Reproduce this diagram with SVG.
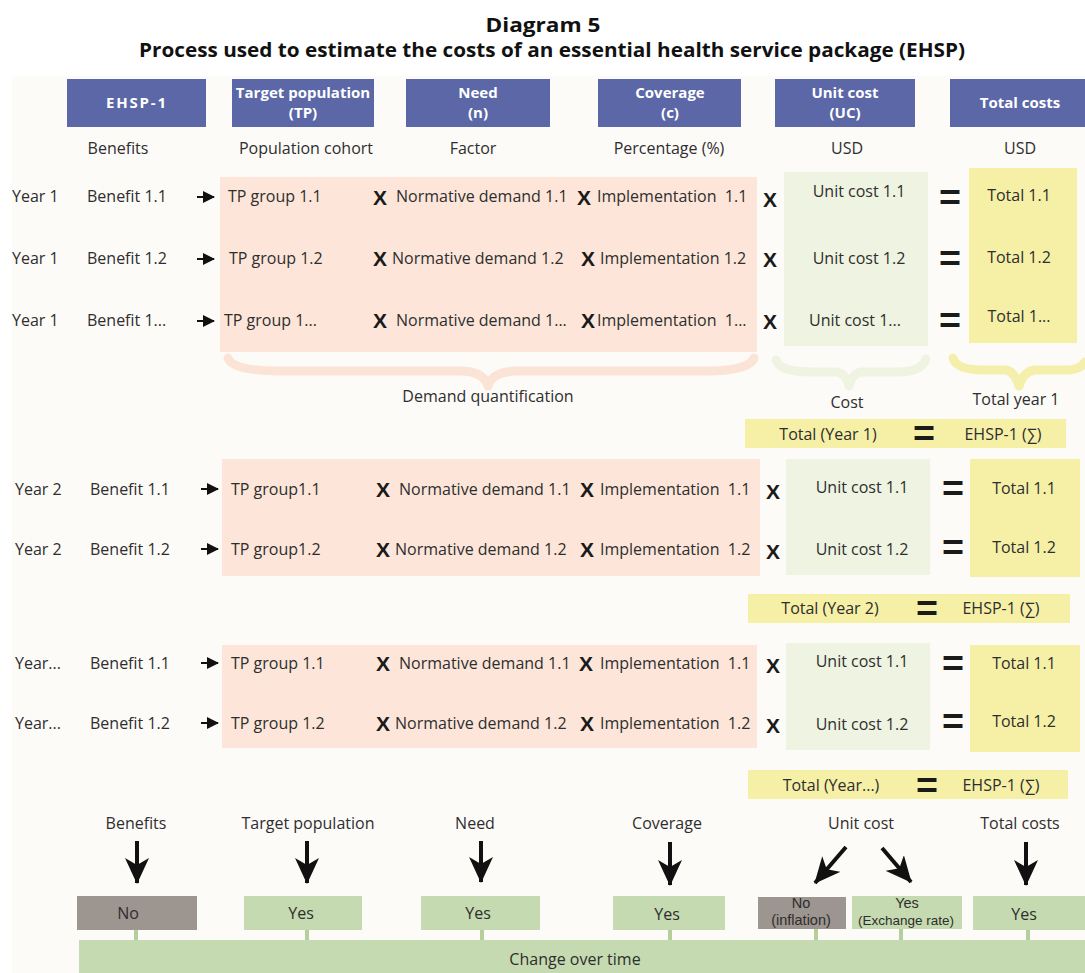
<svg xmlns="http://www.w3.org/2000/svg" width="1085" height="973" viewBox="0 0 1085 973">
<defs>
<style>
text{font-family:"Open Sans","Noto Sans","Liberation Sans",sans-serif;fill:#2e2e2e;font-size:16px}
.title{font-weight:bold;font-size:20px;fill:#111;text-anchor:middle}
.hd{fill:#5b67a6}
.hdt{fill:#fff;font-weight:bold;font-size:15px;text-anchor:middle}
.c{text-anchor:middle}
.peach{fill:#fde6d9}
.lgreen{fill:#eef4e1}
.yellow{fill:#f6f0a7}
.bgreen{fill:#c5dab0}
.grey{fill:#9c9590}
.op{font-family:"Liberation Sans",sans-serif;font-weight:bold;font-size:21px;fill:#1a1a1a;text-anchor:middle}
.eq{font-family:"Liberation Sans",sans-serif;font-weight:bold;font-size:36px;fill:#1a1a1a;text-anchor:middle}
.sarrow{stroke:#111;stroke-width:2;fill:none}
.barrow{stroke:#111;stroke-width:4;fill:none}
.tick{stroke:#b3cf9c;stroke-width:4}
.brace{fill:none;stroke-width:9;stroke-linecap:round;stroke-linejoin:round}
.two{font-family:"Liberation Sans",sans-serif;font-size:14.5px}
.pre{white-space:pre}
</style>
<marker id="sh" markerWidth="12" markerHeight="12" refX="11" refY="6" orient="auto" markerUnits="userSpaceOnUse">
<path d="M0,0 L12,6 L0,12 Z" fill="#111"/>
</marker>
<marker id="bh" markerWidth="26" markerHeight="24" refX="25" refY="12" orient="auto" markerUnits="userSpaceOnUse" viewBox="0 0 26 24">
<path d="M0,0 L7,12 L0,24 L26,12 Z" fill="#111"/>
</marker>
</defs>
<rect x="0" y="0" width="1085" height="973" fill="#ffffff"/>
<rect x="12" y="76" width="1073" height="897" fill="#fdfbf8"/>

<g id="title">
<text class="title" x="543" y="32" textLength="115" lengthAdjust="spacingAndGlyphs">Diagram 5</text>
<text class="title" x="552" y="57" textLength="826" lengthAdjust="spacingAndGlyphs">Process used to estimate the costs of an essential health service package (EHSP)</text>
</g>

<g id="headers">
<g id="h-ehsp"><rect class="hd" x="67" y="79" width="139" height="48"/><text class="hdt" x="136" y="108" textLength="60">EHSP-1</text></g>
<g id="h-tp"><rect class="hd" x="232" y="79" width="142" height="48"/><text class="hdt" x="303" y="98">Target population</text><text class="hdt" x="303" y="118">(TP)</text></g>
<g id="h-need"><rect class="hd" x="406" y="79" width="144" height="48"/><text class="hdt" x="478" y="98">Need</text><text class="hdt" x="478" y="118">(n)</text></g>
<g id="h-cov"><rect class="hd" x="598" y="79" width="143" height="48"/><text class="hdt" x="670" y="98">Coverage</text><text class="hdt" x="670" y="118">(c)</text></g>
<g id="h-uc"><rect class="hd" x="775" y="79" width="140" height="48"/><text class="hdt" x="845" y="98">Unit cost</text><text class="hdt" x="845" y="118">(UC)</text></g>
<g id="h-tc"><rect class="hd" x="950" y="79" width="135" height="48"/><text class="hdt" x="1020" y="108">Total costs</text></g>
<text class="c" x="118" y="154">Benefits</text>
<text class="c" x="306" y="154">Population cohort</text>
<text class="c" x="473" y="154">Factor</text>
<text class="c" x="669" y="154">Percentage (%)</text>
<text class="c" x="847" y="154">USD</text>
<text class="c" x="1020" y="154">USD</text>
</g>

<g id="year1">
<rect class="peach" x="220" y="177" width="537" height="175"/>
<rect class="lgreen" x="784" y="172" width="144" height="174"/>
<rect class="yellow" x="969" y="168" width="108" height="175"/>
<text x="12" y="202">Year 1</text><text x="87" y="202">Benefit 1.1</text>
<text x="228" y="202">TP group 1.1</text><text class="op" x="380" y="205">X</text>
<text x="396" y="202">Normative demand 1.1</text><text class="op" x="584" y="205">X</text>
<text class="pre" x="597" y="202" xml:space="preserve">Implementation  1.1</text><text class="op" x="770" y="207">X</text>
<text class="c" x="859" y="197">Unit cost 1.1</text><text class="eq" x="950" y="210" textLength="22" lengthAdjust="spacingAndGlyphs">=</text><text class="c" x="1019" y="201">Total 1.1</text>

<text x="12" y="264">Year 1</text><text x="87" y="264">Benefit 1.2</text>
<text x="229" y="264">TP group 1.2</text><text class="op" x="380" y="266">X</text>
<text x="392" y="264">Normative demand 1.2</text><text class="op" x="588" y="266">X</text>
<text x="600" y="264">Implementation 1.2</text><text class="op" x="770" y="267">X</text>
<text class="c" x="859" y="264">Unit cost 1.2</text><text class="eq" x="950" y="271" textLength="22" lengthAdjust="spacingAndGlyphs">=</text><text class="c" x="1019" y="263">Total 1.2</text>

<text x="12" y="326">Year 1</text><text x="87" y="326">Benefit 1...</text>
<text x="224" y="326">TP group 1...</text><text class="op" x="380" y="328">X</text>
<text x="396" y="326">Normative demand 1...</text><text class="op" x="588" y="328">X</text>
<text class="pre" x="597" y="326" xml:space="preserve">Implementation  1...</text><text class="op" x="770" y="329">X</text>
<text class="c" x="855" y="326">Unit cost 1...</text><text class="eq" x="950" y="333" textLength="22" lengthAdjust="spacingAndGlyphs">=</text><text class="c" x="1019" y="322">Total 1...</text>

<path class="brace" stroke="#fbe3d5" d="M228,358 Q232,371 280,371 L462,371 Q484,372 488,386 Q492,372 516,371 L710,371 Q750,370 754,358"/>
<path class="brace" stroke="#eef3e2" d="M776,360 Q780,372 812,372 L838,372 Q846,374 849,386 Q852,374 860,372 L900,372 Q922,371 926,359"/>
<path class="brace" stroke="#f5efac" d="M953,358 Q956,370 985,370 L1006,370 Q1015,372 1019,386 Q1023,372 1034,370 L1070,370 Q1082,368 1085,362"/>
<text class="c" x="488" y="402">Demand quantification</text>
<text class="c" x="847" y="408">Cost</text>
<text class="c" x="1016" y="405">Total year 1</text>
<g id="total-year1"><rect class="yellow" x="745" y="419" width="321" height="29"/>
<text class="c" x="828" y="440">Total (Year 1)</text><text class="eq" x="924" y="446" textLength="22" lengthAdjust="spacingAndGlyphs">=</text><text class="c" x="1003" y="440">EHSP-1 (∑)</text></g>
</g>

<g id="year2">
<rect class="peach" x="222" y="459" width="538" height="117"/>
<rect class="lgreen" x="786" y="459" width="144" height="116"/>
<rect class="yellow" x="970" y="459" width="110" height="118"/>
<text x="15" y="495">Year 2</text><text x="90" y="495">Benefit 1.1</text>
<text x="231" y="495">TP group1.1</text><text class="op" x="383" y="497">X</text>
<text x="399" y="495">Normative demand 1.1</text><text class="op" x="587" y="497">X</text>
<text class="pre" x="600" y="495" xml:space="preserve">Implementation  1.1</text><text class="op" x="773" y="499">X</text>
<text class="c" x="862" y="493">Unit cost 1.1</text><text class="eq" x="953" y="501" textLength="22" lengthAdjust="spacingAndGlyphs">=</text><text class="c" x="1024" y="494">Total 1.1</text>

<text x="15" y="555">Year 2</text><text x="90" y="555">Benefit 1.2</text>
<text x="231" y="555">TP group1.2</text><text class="op" x="383" y="557">X</text>
<text x="395" y="555">Normative demand 1.2</text><text class="op" x="587" y="557">X</text>
<text class="pre" x="600" y="555" xml:space="preserve">Implementation  1.2</text><text class="op" x="773" y="559">X</text>
<text class="c" x="862" y="555">Unit cost 1.2</text><text class="eq" x="953" y="560" textLength="22" lengthAdjust="spacingAndGlyphs">=</text><text class="c" x="1024" y="553">Total 1.2</text>
<g id="total-year2"><rect class="yellow" x="748" y="594" width="322" height="29"/>
<text class="c" x="830" y="614">Total (Year 2)</text><text class="eq" x="927" y="621" textLength="22" lengthAdjust="spacingAndGlyphs">=</text><text class="c" x="1001" y="614">EHSP-1 (∑)</text></g>
</g>

<g id="yearN">
<rect class="peach" x="222" y="645" width="535" height="103"/>
<rect class="lgreen" x="786" y="643" width="144" height="107"/>
<rect class="yellow" x="970" y="645" width="110" height="107"/>
<text x="15" y="669">Year...</text><text x="90" y="669">Benefit 1.1</text>
<text x="231" y="669">TP group 1.1</text><text class="op" x="383" y="671">X</text>
<text x="399" y="669">Normative demand 1.1</text><text class="op" x="586" y="671">X</text>
<text class="pre" x="600" y="669" xml:space="preserve">Implementation  1.1</text><text class="op" x="773" y="673">X</text>
<text class="c" x="862" y="667">Unit cost 1.1</text><text class="eq" x="953" y="676" textLength="22" lengthAdjust="spacingAndGlyphs">=</text><text class="c" x="1024" y="669">Total 1.1</text>

<text x="15" y="729">Year...</text><text x="90" y="729">Benefit 1.2</text>
<text x="231" y="729">TP group 1.2</text><text class="op" x="383" y="731">X</text>
<text x="395" y="729">Normative demand 1.2</text><text class="op" x="587" y="731">X</text>
<text class="pre" x="600" y="729" xml:space="preserve">Implementation  1.2</text><text class="op" x="773" y="733">X</text>
<text class="c" x="862" y="730">Unit cost 1.2</text><text class="eq" x="953" y="734" textLength="22" lengthAdjust="spacingAndGlyphs">=</text><text class="c" x="1024" y="727">Total 1.2</text>
<g id="total-yearN"><rect class="yellow" x="748" y="770" width="320" height="29"/>
<text class="c" x="831" y="791">Total (Year...)</text><text class="eq" x="927" y="798" textLength="22" lengthAdjust="spacingAndGlyphs">=</text><text class="c" x="1001" y="791">EHSP-1 (∑)</text></g>
</g>

<g id="bottom-labels">
<text class="c" x="136" y="829">Benefits</text>
<text class="c" x="308" y="829">Target population</text>
<text class="c" x="475" y="829">Need</text>
<text class="c" x="667" y="829">Coverage</text>
<text class="c" x="861" y="829">Unit cost</text>
<text class="c" x="1020" y="829">Total costs</text>
</g>

<g id="bottom-boxes">
<g id="b-benefits"><rect class="grey" x="77" y="896" width="120" height="34"/><text class="c" x="128" y="919">No</text></g>
<g id="b-tp"><rect class="bgreen" x="244" y="896" width="118" height="34"/><text class="c" x="301" y="919">Yes</text></g>
<g id="b-need"><rect class="bgreen" x="421" y="896" width="119" height="34"/><text class="c" x="478" y="919">Yes</text></g>
<g id="b-cov"><rect class="bgreen" x="613" y="896" width="112" height="34"/><text class="c" x="667" y="920">Yes</text></g>
<g id="b-uc-no"><rect class="grey" x="758" y="897" width="88" height="32"/><text class="c two" x="801" y="908">No</text><text class="c two" x="801" y="925">(inflation)</text></g>
<g id="b-uc-yes"><rect class="bgreen" x="852" y="896" width="110" height="33"/><text class="c two" x="907" y="908">Yes</text><text class="c two" x="906" y="925" style="font-size:13.5px">(Exchange rate)</text></g>
<g id="b-tc"><rect class="bgreen" x="973" y="896" width="112" height="34"/><text class="c" x="1024" y="920">Yes</text></g>
<g id="change-over-time"><rect class="bgreen" x="79" y="940" width="1006" height="33"/><text class="c" x="575" y="965">Change over time</text></g>
</g>

<g id="connectors">
<path class="sarrow" marker-end="url(#sh)" d="M197,197 L214,197"/>
<path class="sarrow" marker-end="url(#sh)" d="M197,259 L214,259"/>
<path class="sarrow" marker-end="url(#sh)" d="M197,321 L214,321"/>
<path class="sarrow" marker-end="url(#sh)" d="M201,489 L218,489"/>
<path class="sarrow" marker-end="url(#sh)" d="M201,549 L218,549"/>
<path class="sarrow" marker-end="url(#sh)" d="M201,663 L218,663"/>
<path class="sarrow" marker-end="url(#sh)" d="M201,723 L218,723"/>
<path class="barrow" marker-end="url(#bh)" d="M137,841 L137,883"/>
<path class="barrow" marker-end="url(#bh)" d="M307,841 L307,883"/>
<path class="barrow" marker-end="url(#bh)" d="M481,841 L481,882"/>
<path class="barrow" marker-end="url(#bh)" d="M670,842 L670,885"/>
<path class="barrow" marker-end="url(#bh)" d="M846,847 L815,883"/>
<path class="barrow" marker-end="url(#bh)" d="M882,848 L911,882"/>
<path class="barrow" marker-end="url(#bh)" d="M1026,842 L1026,885"/>
<line class="tick" x1="136" y1="930" x2="136" y2="940"/>
<line class="tick" x1="307" y1="930" x2="307" y2="940"/>
<line class="tick" x1="482" y1="930" x2="482" y2="940"/>
<line class="tick" x1="670" y1="930" x2="670" y2="940"/>
<line class="tick" x1="816" y1="929" x2="816" y2="940"/>
<line class="tick" x1="901" y1="929" x2="901" y2="940"/>
<line class="tick" x1="1028" y1="930" x2="1028" y2="940"/>
</g>
</svg>
